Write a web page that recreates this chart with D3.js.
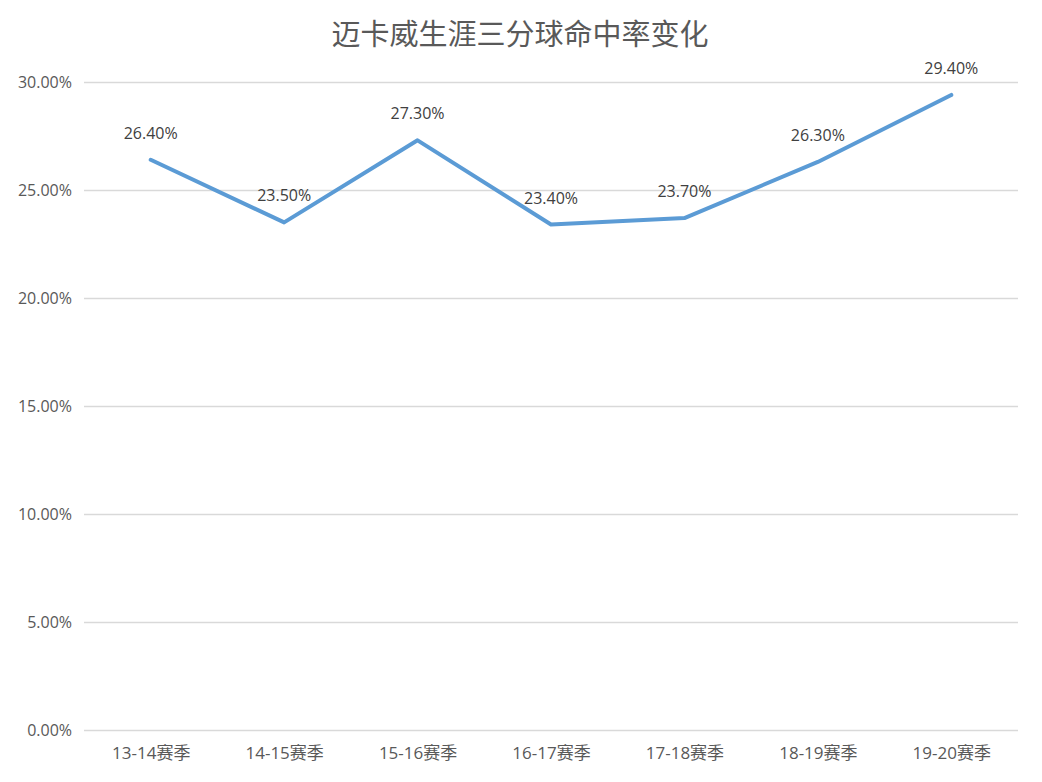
<!DOCTYPE html>
<html><head><meta charset="utf-8">
<script src="https://cdn.jsdelivr.net/npm/d3@7"></script>
<style>body{margin:0;background:#fff;} svg{display:block;}</style>
</head><body>
<svg id="c" width="1042" height="782"></svg>
<script>
const title = "迈卡威生涯三分球命中率变化";
const categories = ["13-14赛季","14-15赛季","15-16赛季","16-17赛季","17-18赛季","18-19赛季","19-20赛季"];
const values = [26.4, 23.5, 27.3, 23.4, 23.7, 26.3, 29.4];
const yTicks = [0, 5, 10, 15, 20, 25, 30];

const svg = d3.select("#c");
const font = "'Noto Sans CJK SC','Open Sans',sans-serif";
const font2 = "'Open Sans','Noto Sans CJK SC',sans-serif";
const m = {left:84, right:1018, top:82, bottom:730};

const x = d3.scalePoint().domain(categories).range([m.left, m.right]).padding(0.5);
const y = d3.scaleLinear().domain([0,30]).range([m.bottom, m.top]);

svg.append("text").attr("x", 520).attr("y", 45).attr("text-anchor","middle")
  .attr("font-family", font).attr("font-size", 29).attr("fill","#595959").text(title);

const yAxis = svg.append("g").attr("transform",`translate(${m.left},0)`)
  .call(d3.axisLeft(y).tickValues(yTicks).tickSize(-(m.right-m.left)).tickFormat(d=>d.toFixed(2)+"%"));
yAxis.select(".domain").remove();
yAxis.selectAll(".tick line").attr("stroke","#d9d9d9").attr("stroke-width",1.5);
yAxis.selectAll(".tick text").attr("x",-12).attr("font-family",font2).attr("font-size",16).attr("fill","#595959");

const xAxis = svg.append("g").attr("transform",`translate(0,${m.bottom})`)
  .call(d3.axisBottom(x).tickSize(0));
xAxis.select(".domain").remove();
xAxis.selectAll(".tick text").attr("dy","1.5em").attr("font-family",font2).attr("font-size",17).attr("fill","#595959");

const line = d3.line().x((d,i)=>x(categories[i])).y(d=>y(d));
svg.append("path").datum(values).attr("d",line).attr("fill","none")
  .attr("stroke","#5b9bd5").attr("stroke-width",4).attr("stroke-linecap","round").attr("stroke-linejoin","round");

svg.selectAll(".lbl").data(values).enter().append("text")
  .attr("x",(d,i)=>x(categories[i])).attr("y",d=>y(d)-21)
  .attr("text-anchor","middle").attr("font-family",font2).attr("font-size",16).attr("fill","#404040")
  .text(d=>d.toFixed(2)+"%");
</script>
</body></html>
